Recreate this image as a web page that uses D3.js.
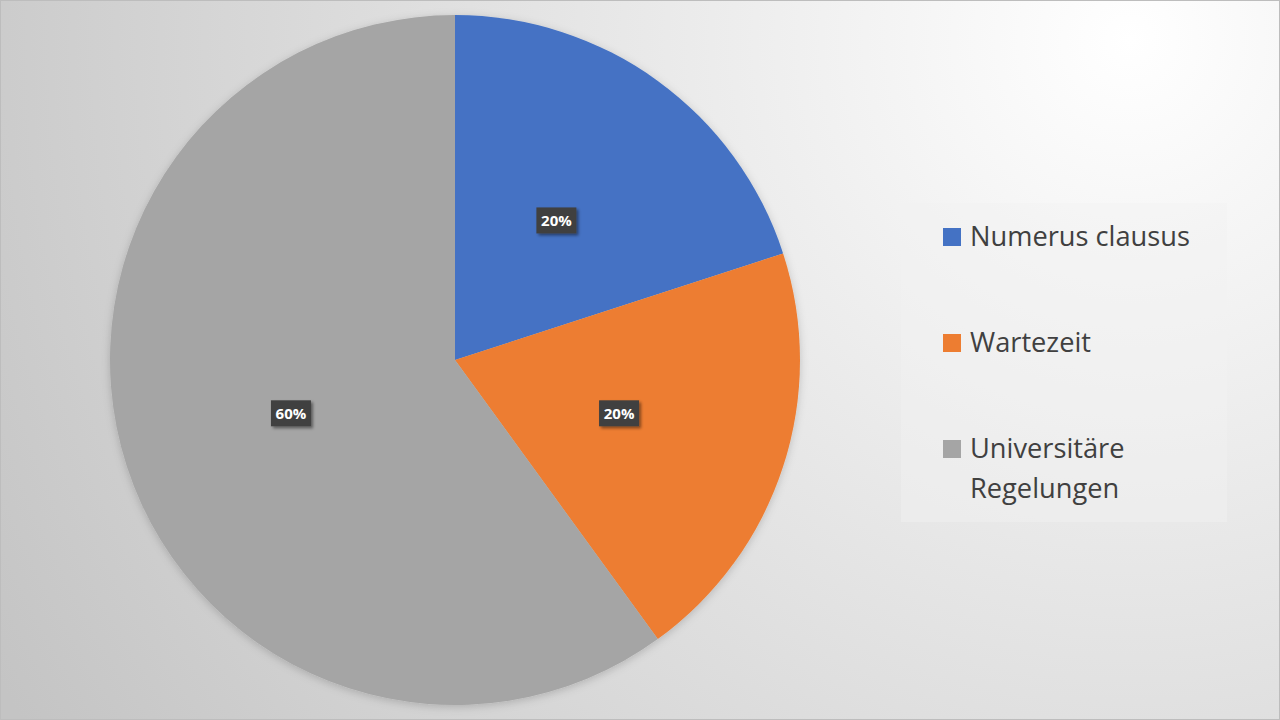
<!DOCTYPE html>
<html><head><meta charset="utf-8">
<script src="https://cdn.jsdelivr.net/npm/d3@7"></script>
<style>html,body{margin:0;padding:0;overflow:hidden;background:#fff}</style>
</head><body>
<svg id="chart" width="1280" height="720"></svg>
<script>
const categories = ["Numerus clausus", "Wartezeit", "Universitäre Regelungen"];
const legendLines = [["Numerus clausus"], ["Wartezeit"], ["Universitäre", "Regelungen"]];
const values = [20, 20, 60];
const colors = ["#4472C4", "#ED7D31", "#A5A5A5"];

const W = 1280, H = 720;
const svg = d3.select("#chart");
const defs = svg.append("defs");
const grad = defs.append("radialGradient").attr("id", "bg")
  .attr("gradientUnits", "userSpaceOnUse")
  .attr("cx", 1130).attr("cy", 40).attr("r", 1300);
grad.append("stop").attr("offset", "0%").attr("stop-color", "#ffffff");
grad.append("stop").attr("offset", "100%").attr("stop-color", "#c4c4c4");

const sh = defs.append("filter").attr("id", "shadow").attr("x", "-30%").attr("y", "-30%").attr("width", "160%").attr("height", "160%");
sh.append("feDropShadow").attr("dx", 2).attr("dy", 2).attr("stdDeviation", 1.5).attr("flood-color", "#000").attr("flood-opacity", 0.45);
const psh = defs.append("filter").attr("id", "pieshadow").attr("x", "-10%").attr("y", "-10%").attr("width", "120%").attr("height", "120%");
psh.append("feDropShadow").attr("dx", 0).attr("dy", 2).attr("stdDeviation", 4).attr("flood-color", "#000").attr("flood-opacity", 0.18);

svg.append("rect").attr("x", 0.5).attr("y", 0.5).attr("width", W - 1).attr("height", H - 1)
  .attr("fill", "url(#bg)").attr("stroke", "#bdbdbd");

const cx = 455, cy = 360, R = 345;
const pie = d3.pie().sort(null).value(d => d)(values);
const arc = d3.arc().innerRadius(0).outerRadius(R);
const labelArc = d3.arc().innerRadius(R * 0.5).outerRadius(R * 0.5);

const g = svg.append("g").attr("transform", `translate(${cx},${cy})`);
g.append("g").attr("filter", "url(#pieshadow)").selectAll("path").data(pie).join("path")
  .attr("d", arc).attr("fill", (d, i) => colors[i]);

const total = d3.sum(values);
const fmt = d3.format(".0%");
const lab = g.selectAll("g.lab").data(pie).join("g").attr("class", "lab")
  .attr("transform", d => { const [x, y] = labelArc.centroid(d); return `translate(${x},${y})`; });
lab.append("rect").attr("x", -20).attr("y", -13).attr("width", 40).attr("height", 26)
  .attr("fill", "#404040").attr("filter", "url(#shadow)");
lab.append("text").attr("text-anchor", "middle").attr("dy", "0.36em")
  .attr("fill", "#fff").attr("font-family", "Open Sans, Noto Sans, sans-serif")
  .attr("font-weight", "bold").attr("font-size", 15)
  .text(d => fmt(d.data / total));

// Legend
const legend = svg.append("g");
legend.append("rect").attr("x", 901).attr("y", 203).attr("width", 326).attr("height", 319)
  .attr("fill", "#f2f2f2").attr("fill-opacity", 0.45);
const itemY = [246, 352, 458];
const items = legend.selectAll("g.item").data(categories).join("g").attr("class", "item");
items.append("rect").attr("x", 943).attr("y", (d, i) => itemY[i] - 18).attr("width", 18).attr("height", 18)
  .attr("fill", (d, i) => colors[i]);
let fs = 25;
items.each(function(d, i) {
  const t = d3.select(this).append("text").attr("class", "lt").attr("x", 970).attr("y", itemY[i])
    .attr("fill", "#404040").attr("font-family", "Open Sans, Noto Sans, sans-serif").attr("font-size", fs);
  legendLines[i].forEach((ln, j) => {
    t.append("tspan").attr("x", 970).attr("y", itemY[i] + j * 40).text(ln);
  });
});
// fit font size so the first entry spans the width seen in the reference
const w0 = svg.select("text.lt").node().getComputedTextLength();
if (w0 > 0) { fs = fs * 220 / w0; svg.selectAll("text.lt").attr("font-size", fs); }
</script>
</body></html>
